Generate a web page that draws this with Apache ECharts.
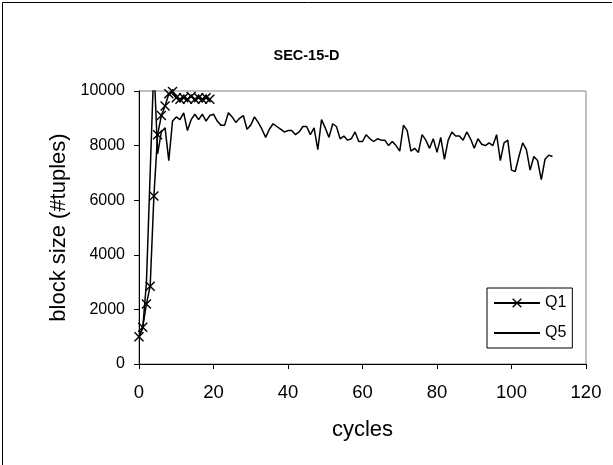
<!DOCTYPE html>
<html>
<head>
<meta charset="utf-8">
<script src="https://cdn.jsdelivr.net/npm/echarts@6.0.0/dist/echarts.min.js"></script>
<style>
html,body{margin:0;padding:0;background:#fff;}
#chart{width:613px;height:465px;}
</style>
</head>
<body>
<div id="chart"></div>
<script>
var chartTitle = 'SEC-15-D';
var xAxisName = 'cycles';
var yAxisName = 'block size (#tuples)';
var seriesNames = ['Q1', 'Q5'];
var xTicks = [0, 20, 40, 60, 80, 100, 120];
var yTicks = [0, 2000, 4000, 6000, 8000, 10000];

// Q1: one value per cycle, starting at cycle 0
var q1Values = [1000, 1350, 2200, 2850, 6150, 8400, 9100, 9450, 9900, 9980,
  9750, 9700, 9750, 9700, 9800, 9700, 9750, 9700, 9750, 9700];

// Q5: one value per cycle, starting at cycle 0
var q5Values = [1000, 1300, 3000, 7000, 11000, 7700, 8500, 8650, 7450, 8900,
  9050, 8950, 9200, 8550, 8950, 9150, 8950, 9150, 8900, 9100,
  9150, 8900, 8750, 8750, 9200, 9050, 8850, 9000, 9100, 8600,
  8750, 9050, 8850, 8600, 8300, 8600, 8800, 8700, 8600, 8500,
  8550, 8550, 8400, 8500, 8700, 8700, 8400, 8650, 7850, 8950,
  8650, 8300, 8800, 8700, 8250, 8350, 8200, 8250, 8500, 8150,
  8150, 8400, 8250, 8150, 8250, 8200, 8200, 8000, 8150, 8000,
  7800, 8750, 8550, 7800, 7900, 7750, 8400, 8200, 7900, 8250,
  7750, 8300, 7500, 8200, 8500, 8350, 8350, 8200, 8500, 8250,
  7900, 8250, 8050, 8000, 8100, 8000, 8400, 7450, 8100, 8200,
  7100, 7050, 7600, 8100, 7850, 7100, 7600, 7450, 6750, 7500,
  7650, 7600];

function toPairs(arr) {
  return arr.map(function (v, i) { return [i, v]; });
}

var FONT = '"Liberation Sans", Arial, sans-serif';
var xMark = 'path://M0,1 L1,0 L5,4 L9,0 L10,1 L6,5 L10,9 L9,10 L5,6 L1,10 L0,9 L4,5 Z';

var chart = echarts.init(document.getElementById('chart'), null, {renderer: 'canvas'});
chart.setOption({
  backgroundColor: '#fff',
  animation: false,
  textStyle: {fontFamily: FONT},
  title: {
    text: chartTitle,
    left: 'center',
    top: 43,
    textStyle: {fontFamily: FONT, fontSize: 14.5, fontWeight: 'bold', color: '#000'}
  },
  grid: {
    left: 139, right: 27, top: 91, bottom: 101,
    show: true, borderColor: '#808080', borderWidth: 1, backgroundColor: 'transparent'
  },
  legend: {
    orient: 'vertical',
    left: 487, top: 288,
    itemWidth: 46, itemHeight: 12, itemGap: 14,
    padding: [7, 6, 7, 6],
    borderColor: '#000', borderWidth: 1, backgroundColor: '#fff',
    textStyle: {fontFamily: FONT, fontSize: 16, color: '#000'},
    data: [
      {name: seriesNames[0]},
      {name: seriesNames[1], itemStyle: {opacity: 0, color: 'transparent', borderWidth: 0}}
    ]
  },
  xAxis: {
    type: 'value', min: xTicks[0], max: xTicks[xTicks.length - 1], interval: xTicks[1] - xTicks[0],
    name: xAxisName, nameLocation: 'middle', nameGap: 55,
    nameTextStyle: {fontFamily: FONT, fontSize: 22, color: '#000'},
    axisLine: {show: true, lineStyle: {color: '#000', width: 1}},
    axisTick: {show: true, length: 5, lineStyle: {color: '#000'}},
    axisLabel: {fontFamily: FONT, fontSize: 18.5, color: '#000', margin: 19},
    splitLine: {show: false}
  },
  yAxis: {
    type: 'value', min: yTicks[0], max: yTicks[yTicks.length - 1], interval: yTicks[1] - yTicks[0],
    name: yAxisName, nameLocation: 'middle', nameGap: 69, nameRotate: 90,
    nameTextStyle: {fontFamily: FONT, fontSize: 22, color: '#000'},
    axisLine: {show: true, lineStyle: {color: '#000', width: 1}},
    axisTick: {show: true, length: 5, lineStyle: {color: '#000'}},
    axisLabel: {fontFamily: FONT, fontSize: 16, color: '#000', margin: 14,
      formatter: function (v) { return String(v); }},
    splitLine: {show: false}
  },
  series: [
    {
      name: seriesNames[0], type: 'line', data: toPairs(q1Values),
      symbol: xMark, symbolSize: 10, showSymbol: true, clip: true,
      lineStyle: {color: '#000', width: 1.5},
      itemStyle: {color: '#000'}
    },
    {
      name: seriesNames[1], type: 'line', data: toPairs(q5Values),
      symbol: 'none', clip: true,
      lineStyle: {color: '#000', width: 1.5},
      itemStyle: {color: '#000'}
    }
  ],
  graphic: [
    {type: 'polyline', shape: {points: [[2.5, 465], [2.5, 2.5], [612, 2.5]]},
     style: {stroke: '#000', lineWidth: 1, fill: null}, silent: true}
  ]
});
</script>
</body>
</html>
